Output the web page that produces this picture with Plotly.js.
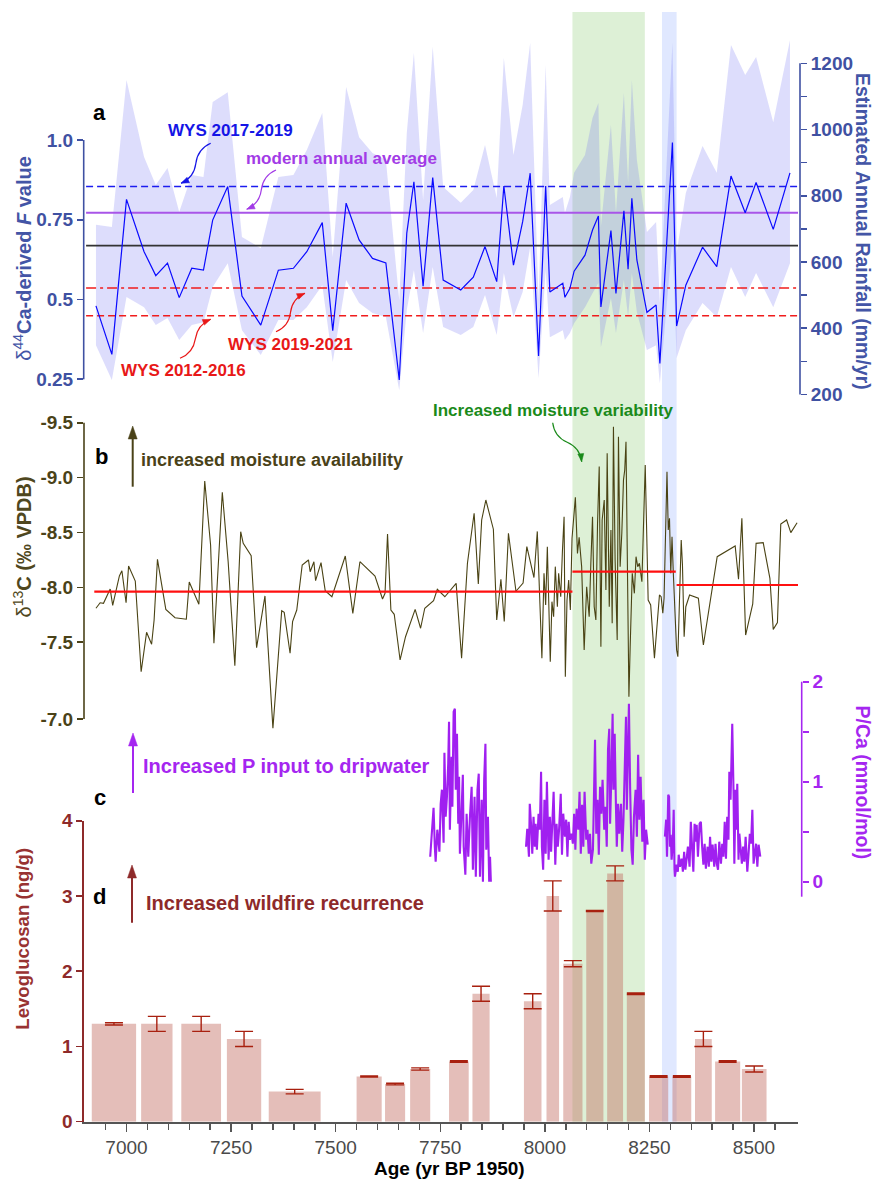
<!DOCTYPE html>
<html><head><meta charset="utf-8">
<script src="https://cdn.plot.ly/plotly-3.0.1.min.js"></script>
<style>html,body{margin:0;padding:0;background:#fff}#chart{width:875px;height:1182px}</style>
</head><body><div id="chart"></div>
<script>
// ---------------- DATA ----------------
// Panel a: d44Ca-derived F value and its uncertainty envelope
const aAge = [6927,6965,7000,7042,7070,7098,7126,7156,7184,7206,7242,7276,7321,7363,7399,7431,7468,7493,7525,7556,7588,7620,7652,7670,7687,7709,7732,7757,7799,7829,7857,7885,7902,7925,7947,7965,7985,8002,8012,8043,8048,8060,8070,8096,8114,8128,8134,8158,8170,8189,8199,8208,8220,8244,8266,8275,8305,8315,8337,8377,8411,8445,8479,8505,8546,8586];
const aF = [0.480,0.328,0.814,0.650,0.575,0.614,0.506,0.598,0.592,0.749,0.854,0.511,0.420,0.592,0.598,0.650,0.741,0.402,0.802,0.687,0.629,0.615,0.248,0.708,0.869,0.542,0.882,0.561,0.530,0.570,0.666,0.556,0.856,0.608,0.744,0.896,0.323,0.856,0.524,0.551,0.507,0.535,0.589,0.639,0.718,0.762,0.477,0.716,0.519,0.778,0.595,0.817,0.624,0.460,0.483,0.300,0.992,0.417,0.545,0.664,0.603,0.887,0.772,0.867,0.720,0.897];
const aUp = [0.734,0.727,1.188,0.947,0.859,0.912,0.774,0.890,0.884,1.119,1.150,0.696,0.661,0.884,0.890,0.969,1.085,0.633,1.166,1.009,0.959,0.937,0.498,1.022,1.273,0.812,1.292,0.853,0.803,0.843,0.984,0.818,1.257,0.953,1.110,1.304,0.500,1.235,0.796,0.821,0.771,0.821,0.897,0.953,1.069,1.116,0.727,1.047,0.771,1.147,0.865,1.188,0.937,0.712,0.743,0.489,1.304,0.646,0.834,0.981,0.897,1.298,1.204,1.260,1.056,1.313];
const aLo = [0.357,0.248,0.508,0.476,0.420,0.442,0.373,0.420,0.429,0.539,0.614,0.404,0.326,0.436,0.436,0.476,0.545,0.304,0.561,0.489,0.458,0.445,0.216,0.467,0.592,0.395,0.602,0.414,0.389,0.414,0.514,0.389,0.583,0.445,0.524,0.665,0.254,0.592,0.382,0.404,0.373,0.395,0.426,0.476,0.520,0.552,0.351,0.505,0.395,0.561,0.445,0.583,0.461,0.342,0.357,0.238,0.687,0.317,0.404,0.489,0.445,0.602,0.508,0.583,0.476,0.614];
// reference F levels
const refNames = ['WYS 2017-2019','modern annual average','mean','WYS 2019-2021','WYS 2012-2016'];
const refF = [0.854, 0.772, 0.669, 0.536, 0.449];
const fTicks = [0.25, 0.5, 0.75, 1.0];
const fTickText = ['0.25','0.5','0.75','1.0'];
const rainTicks = [200,400,600,800,1000,1200];

// Panel b: d13C
const bAge = [6927,6937,6945,6961,6967,6983,6989,6999,7005,7021,7035,7048,7060,7066,7074,7084,7094,7116,7143,7150,7173,7187,7201,7209,7229,7243,7259,7273,7279,7298,7311,7331,7350,7371,7377,7391,7397,7407,7420,7435,7439,7448,7452,7465,7475,7491,7523,7541,7558,7594,7612,7618,7624,7632,7640,7654,7667,7690,7703,7713,7734,7743,7761,7788,7801,7815,7831,7841,7849,7859,7877,7885,7895,7903,7913,7931,7948,7957,7974,7982,7993,7998,8002,8006,8013,8017,8021,8025,8030,8033,8038,8042,8046,8049,8053,8057,8061,8065,8073,8078,8082,8088,8094,8100,8106,8110,8114,8118,8122,8126,8130,8134,8137,8142,8146,8149,8154,8158,8161,8164,8168,8173,8176,8180,8184,8188,8191,8194,8198,8201,8204,8209,8214,8218,8222,8226,8232,8240,8247,8253,8262,8274,8278,8282,8285,8288,8292,8295,8298,8301,8304,8307,8315,8318,8322,8326,8329,8333,8337,8346,8367,8379,8412,8455,8463,8471,8480,8497,8505,8522,8538,8546,8556,8564,8578,8588,8603];
const bVal = [-7.81,-7.86,-7.855,-7.985,-7.837,-8.104,-8.152,-7.86,-8.195,-8.058,-7.232,-7.591,-7.482,-7.703,-8.256,-8.037,-7.80,-7.724,-7.71,-8.049,-7.846,-8.969,-8.386,-7.491,-8.866,-8.234,-7.287,-8.507,-8.402,-8.289,-7.451,-7.922,-6.717,-7.788,-7.773,-7.40,-7.688,-7.794,-8.204,-8.25,-8.143,-8.234,-8.061,-8.225,-7.97,-7.915,-8.286,-7.764,-8.234,-8.104,-7.894,-7.946,-8.486,-7.794,-7.755,-7.339,-7.551,-7.80,-7.628,-7.81,-7.879,-7.983,-7.915,-8.037,-7.354,-8.22,-8.675,-8.031,-8.614,-8.796,-8.53,-7.703,-8.074,-7.69,-8.493,-7.965,-8.04,-8.371,-8.09,-8.51,-7.354,-8.128,-7.84,-8.371,-7.323,-7.87,-7.733,-8.189,-7.824,-8.128,-7.915,-8.325,-8.644,-7.187,-7.885,-8.067,-7.794,-8.447,-8.82,-8.31,-8.456,-8.189,-7.43,-8.006,-7.733,-8.22,-8.644,-7.824,-7.703,-8.584,-9.1,-7.46,-8.614,-8.796,-7.976,-9.221,-7.824,-8.523,-7.673,-9.464,-8.25,-7.521,-9.373,-8.189,-8.493,-8.978,-9.069,-9.327,-7.794,-7.005,-7.46,-8.128,-7.946,-8.28,-8.189,-8.22,-8.052,-9.115,-7.885,-7.84,-7.354,-7.931,-7.915,-7.764,-7.901,-8.34,-9.054,-8.523,-8.629,-8.128,-8.462,-8.143,-7.43,-7.369,-7.824,-8.432,-8.204,-7.551,-7.824,-7.931,-7.901,-7.475,-8.28,-8.377,-8.074,-8.629,-7.566,-7.849,-8.401,-8.407,-8.083,-7.618,-7.679,-8.577,-8.614,-8.499,-8.589];
const bMeanStart = [6923, 8066, 8315];
const bMeanEnd = [8066, 8313, 8606];
const bMeanVal = [-7.961, -8.143, -8.022];
const bTickText = ['-9.5','-9.0','-8.5','-8.0','-7.5','-7.0'];

// Panel c: P/Ca (three sections)
const pcAge1 = [7726,7730,7734,7737,7739,7743,7748,7751,7754,7758,7760,7763,7766,7769,7771,7773,7777,7779,7782,7785,7787,7790,7793,7795,7797,7801,7804,7806,7810,7813,7817,7821,7825,7828,7832,7835,7839,7842,7845,7849,7852,7855,7858,7860,7864,7867,7869,7871];
const pcVal1 = [0.25,0.49,0.74,0.35,0.20,0.52,0.30,0.78,0.92,0.39,1.29,0.65,0.85,1.18,1.60,0.52,1.25,0.75,1.70,1.73,0.92,1.48,0.58,1.05,0.28,0.72,1.07,0.35,0.07,0.68,0.25,0.65,0.95,0.12,0.85,0.05,0.92,1.08,0.05,0.82,0.00,1.02,1.38,0.32,0.65,0.00,0.25,0.00];
const pcAge2 = [7955,7958,7962,7964,7967,7970,7973,7976,7978,7981,7985,7988,7991,7993,7996,7999,8002,8005,8009,8012,8015,8018,8021,8025,8028,8031,8034,8038,8041,8044,8048,8051,8054,8057,8060,8064,8067,8070,8073,8076,8080,8083,8086,8089,8092,8095,8099,8102,8105,8108,8111,8115,8118,8120,8123,8126,8129,8132,8135,8138,8142,8145,8148,8151,8154,8156,8159,8162,8164,8167,8170,8172,8175,8178,8182,8185,8188,8191,8194,8196,8199,8201,8204,8207,8210,8213,8217,8220,8223,8226,8229,8233,8236,8239,8242,8246];
const pcVal2 = [0.35,0.53,0.25,0.78,0.58,0.28,0.65,0.35,0.58,0.32,0.68,0.52,1.10,0.35,0.12,0.82,0.28,1.00,0.22,0.65,0.30,0.65,0.90,0.17,0.58,0.35,0.52,0.88,0.27,0.68,0.45,0.62,0.25,0.60,0.42,0.48,0.38,0.68,0.32,0.73,0.52,0.90,0.28,0.77,0.35,0.90,0.42,0.52,0.28,0.48,0.18,0.32,0.95,1.42,0.48,0.82,0.27,0.95,0.68,1.02,0.52,0.75,0.35,1.32,1.53,0.58,1.05,1.68,0.92,1.48,0.75,0.35,0.78,0.48,0.78,0.30,0.62,1.03,1.65,0.72,1.58,1.78,0.92,0.32,0.17,0.65,0.92,0.45,1.27,0.62,1.05,0.40,0.82,0.22,0.52,0.37];
const pcAge3 = [8287,8290,8292,8295,8297,8299,8301,8303,8306,8308,8310,8311,8315,8318,8320,8323,8327,8330,8333,8336,8339,8342,8346,8349,8352,8355,8358,8360,8363,8366,8370,8373,8376,8379,8382,8385,8389,8392,8395,8398,8401,8405,8408,8411,8414,8417,8421,8424,8427,8430,8433,8436,8439,8441,8444,8446,8448,8451,8453,8456,8458,8460,8463,8465,8468,8471,8474,8477,8480,8484,8487,8490,8493,8496,8499,8502,8505,8508,8511,8515];
const pcVal3 = [0.45,0.62,0.25,0.87,0.85,0.35,0.47,0.22,0.38,0.72,0.12,0.05,0.17,0.10,0.27,0.15,0.23,0.10,0.30,0.12,0.23,0.35,0.15,0.60,0.35,0.10,0.58,0.40,0.57,0.25,0.58,0.60,0.35,0.17,0.38,0.13,0.35,0.15,0.45,0.20,0.37,0.15,0.38,0.18,0.12,0.40,0.18,0.38,0.25,0.60,0.23,0.65,0.42,1.10,0.82,1.27,1.58,0.92,0.18,0.92,0.52,0.98,0.22,0.48,0.32,0.18,0.35,0.20,0.45,0.10,0.28,0.48,0.38,0.72,0.18,0.28,0.38,0.15,0.37,0.25];

// Panel d: levoglucosan per sample age interval
const levoAgeStart = [6917,7035,7131,7240,7340,7550,7618,7678,7771,7827,7950,8004,8044,8099,8149,8196,8249,8305,8359,8407,8471];
const levoAgeEnd   = [7023,7110,7226,7322,7464,7610,7666,7726,7818,7868,7992,8034,8090,8140,8187,8239,8295,8350,8399,8467,8530];
const levo    = [1.3,1.3,1.3,1.1,0.4,0.6,0.5,0.7,0.8,1.7,1.6,3.0,2.1,2.8,3.3,1.7,0.6,0.6,1.1,0.8,0.7];
const levoErr = [0.015,0.1,0.1,0.1,0.03,0.008,0.01,0.015,0.01,0.1,0.1,0.2,0.04,0.008,0.1,0.01,0.01,0.01,0.1,0.01,0.04];

// highlighted intervals
const bandStart = [8066, 8280];
const bandEnd   = [8239, 8315];

const xTicks = [7000,7250,7500,7750,8000,8250,8500];

// ---------------- LAYOUT HELPERS ----------------
const W = 875, H = 1182;
const X = p => p / W, Y = p => 1 - p / H;
const lin = (v1, p1, v2, p2, p) => v1 + (p - p1) * (v2 - v1) / (p2 - p1);
const FF = 'Liberation Sans, Arial, Helvetica, sans-serif';
const XL = 84, XR = 798;
const xr = [lin(7000,126.5,8500,754,XL), lin(7000,126.5,8500,754,XR)];

const A_COL = '#3f51a2', B_COL = '#4a4218', C_COL = '#a526f0', D_COL = '#8e2a2a';

const fRange = [lin(1,140,0.25,379.3,400), lin(1,140,0.25,379.3,20)];
const rRange = [lin(1200,63.3,200,394.5,400), lin(1200,63.3,200,394.5,20)];
const bRange = [lin(-9.5,422.7,-7.5,642.3,740), lin(-9.5,422.7,-7.5,642.3,400)];
const bM7pos = lin(-9.5,422.7,-7.5,642.3,719);
const bTickVals = [-9.5,-9,-8.5,-8,-7.5,bM7pos];
const cRange = [lin(2,681.7,0,881.7,900), lin(2,681.7,0,881.7,660)];

const minorX = [];
for (let v = 6950; v <= 8550; v += 50) if (v % 250 !== 0) minorX.push(v);

// ---------------- TRACES ----------------
const traces = [];
traces.push({x:aAge, y:aLo, xaxis:'x', yaxis:'y', mode:'lines', line:{width:0,color:'rgba(0,0,0,0)'}, hoverinfo:'skip', showlegend:false});
traces.push({x:aAge, y:aUp, xaxis:'x', yaxis:'y', mode:'lines', fill:'tonexty', fillcolor:'rgba(110,110,240,0.23)', line:{width:0,color:'rgba(0,0,0,0)'}, hoverinfo:'skip', showlegend:false});
const refStyle = [
  {color:'#1c1cf0', width:1.5, dash:'7px,4px'},
  {color:'#a855e8', width:1.8, dash:'solid'},
  {color:'#333333', width:1.6, dash:'solid'},
  {color:'#f01c1c', width:1.5, dash:'10px,4px,3px,4px'},
  {color:'#f01c1c', width:1.5, dash:'7px,4px'}
];
refF.forEach((v,i)=>traces.push({x:[xr[0]+5, xr[1]], y:[v,v], xaxis:'x', yaxis:'y', mode:'lines', line:refStyle[i], name:refNames[i], showlegend:false}));
traces.push({x:aAge, y:aF, xaxis:'x', yaxis:'y', mode:'lines', line:{color:'#0a0aff', width:1.2}, showlegend:false});

traces.push({x:bAge, y:bVal, xaxis:'x', yaxis:'y3', mode:'lines', line:{color:'#4a4314', width:1.1}, showlegend:false});
const mx = [], my = [];
bMeanVal.forEach((v,i)=>{ mx.push(bMeanStart[i], bMeanEnd[i], null); my.push(v, v, null); });
traces.push({x:mx, y:my, xaxis:'x', yaxis:'y3', mode:'lines', line:{color:'#ff1010', width:2.2}, showlegend:false});

[[pcAge1,pcVal1],[pcAge2,pcVal2],[pcAge3,pcVal3]].forEach(s=>traces.push({x:s[0], y:s[1], xaxis:'x', yaxis:'y4', mode:'lines', line:{color:'#a020f0', width:2.1}, showlegend:false}));

traces.push({type:'bar', x:levoAgeStart.map((s,i)=>(s+levoAgeEnd[i])/2), width:levoAgeStart.map((s,i)=>levoAgeEnd[i]-s), y:levo, xaxis:'x', yaxis:'y5',
  marker:{color:'rgba(195,110,100,0.45)', line:{width:0}},
  error_y:{type:'data', array:levoErr, visible:true, color:'#a8200f', thickness:1.4, width:9}, showlegend:false});

// ---------------- SHAPES ----------------
const shapes = [];
const bandCol = ['#ddf0d6', '#e0e8ff'];
bandStart.forEach((s,i)=>shapes.push({type:'rect', xref:'x', yref:'paper', x0:s, x1:bandEnd[i], y0:Y(1121.7), y1:Y(12), fillcolor:bandCol[i], line:{width:0}, layer:'below'}));
// axis lines
shapes.push({type:'line', xref:'paper', yref:'y', x0:X(83.7), x1:X(83.7), y0:0.25, y1:1.0, line:{color:A_COL, width:1.6}});
shapes.push({type:'line', xref:'paper', yref:'y2', x0:X(800), x1:X(800), y0:200, y1:1200, line:{color:A_COL, width:1.6}});
shapes.push({type:'line', xref:'paper', yref:'y3', x0:X(84), x1:X(84), y0:-9.5, y1:bM7pos, line:{color:B_COL, width:1.6}});
shapes.push({type:'line', xref:'paper', yref:'y4', x0:X(801.7), x1:X(801.7), y0:2, y1:lin(2,681.7,0,881.7,896.7), line:{color:C_COL, width:1.6}});

function head(tx,ty,fx,fy,len,wid,color){
  const dx=tx-fx, dy=ty-fy, L=Math.hypot(dx,dy), ux=dx/L, uy=dy/L;
  const bx=tx-ux*len, by=ty-uy*len, nx=-uy, ny=ux;
  return {type:'path', xref:'paper', yref:'paper',
    path:`M ${X(tx)},${Y(ty)} L ${X(bx+nx*wid/2)},${Y(by+ny*wid/2)} L ${X(bx-nx*wid/2)},${Y(by-ny*wid/2)} Z`,
    fillcolor:color, line:{color:color, width:0.5}};
}
function squig(sx,sy,tx,ty,amp,color){
  const dx=tx-sx, dy=ty-sy, L=Math.hypot(dx,dy), nx=-dy/L*amp, ny=dx/L*amp;
  const mxp=sx+dx*0.5, myp=sy+dy*0.5;
  const c1=[sx+dx*0.25+nx, sy+dy*0.25+ny], c2=[sx+dx*0.75-nx, sy+dy*0.75-ny];
  shapes.push({type:'path', xref:'paper', yref:'paper',
    path:`M ${X(sx)},${Y(sy)} Q ${X(c1[0])},${Y(c1[1])} ${X(mxp)},${Y(myp)} Q ${X(c2[0])},${Y(c2[1])} ${X(tx)},${Y(ty)}`,
    line:{color:color, width:1.2}});
  shapes.push(head(tx,ty,c2[0],c2[1],8,6,color));
}
squig(210.7,143.3,181,183.3,7,'#1515e6');
squig(276,170,246.7,209.3,7,'#a23be6');
squig(276,331.7,305,293.3,7,'#e81818');
squig(180,358.3,210.7,319.3,7,'#e81818');
squig(552.7,422.7,581.7,461.7,7,'#1a8a1a');

function upArrow(x,y0,y1,color){
  shapes.push({type:'line', xref:'paper', yref:'paper', x0:X(x), x1:X(x), y0:Y(y0), y1:Y(y1+10), line:{color:color, width:2}});
  shapes.push(head(x,y1,x,y0,13,9,color));
}
upArrow(132.7,486.7,426,B_COL);
upArrow(133,793,733,C_COL);
upArrow(132,922.7,865,D_COL);

// ---------------- ANNOTATIONS ----------------
const ann = [];
function T(text,x,y,size,color,angle){
  ann.push({text:text, xref:'paper', yref:'paper', x:X(x), y:Y(y), xanchor:'center', yanchor:'middle', showarrow:false,
    textangle:angle||0, font:{family:FF, size:size, color:color}});
}
T('<b>a</b>',99.3,112.7,22,'#000');
T('<b>b</b>',101.7,456,22,'#000');
T('<b>c</b>',100,797,22,'#000');
T('<b>d</b>',99,896.7,22,'#000');
T('<b>WYS 2017-2019</b>',230,130.7,17,'#1515e6');
T('<b>modern annual average</b>',341,158.3,17,'#a23be6');
T('<b>WYS 2019-2021</b>',290.5,344.3,17,'#e81818');
T('<b>WYS 2012-2016</b>',183.8,370,17,'#e81818');
T('<b>increased moisture availability</b>',272,460,18,B_COL);
T('<b>Increased moisture variability</b>',553.3,410,17,'#1a8a1a');
T('<b>Increased P input to dripwater</b>',286.5,766,20,C_COL);
T('<b>Increased wildfire recurrence</b>',284.7,903.3,20,D_COL);
T('δ<sup>44</sup><b>Ca-derived <i>F</i> value</b>',21.7,258,20,'#4355a6',-90);
T('<b>Estimated Annual Rainfall (mm/yr)</b>',863,231,19.5,'#4355a6',90);
T('δ<sup>13</sup><b>C (‰ VPDB)</b>',22,547.5,20,'#4f4720',-90);
T('<b>P/Ca (mmol/mol)</b>',863,782.5,19.5,C_COL,90);
T('<b>Levoglucosan (ng/g)</b>',21.7,939,18.6,'#983232',-90);
T('<b>Age (yr BP 1950)</b>',449,1168,19,'#000');

// ---------------- AXES ----------------
const tf = (c,b) => ({family:FF, size:19, color:c, weight: b ? 'bold' : 'normal'});
const common = {showgrid:false, zeroline:false, fixedrange:true};
const layout = {
  width:W, height:H, margin:{l:0,r:0,t:0,b:0}, paper_bgcolor:'#ffffff', plot_bgcolor:'rgba(0,0,0,0)',
  showlegend:false, barmode:'overlay', font:{family:FF},
  xaxis:Object.assign({domain:[X(XL),X(XR)], range:xr, anchor:'y5', showline:true, linecolor:'#555', linewidth:1.8,
    ticks:'outside', ticklen:8, tickwidth:1.5, tickcolor:'#555', tickmode:'array', tickvals:xTicks, ticktext:xTicks.map(String),
    tickfont:tf('#4a4a4a',false), minor:{tickmode:'array', tickvals:minorX, ticks:'outside', ticklen:6, tickwidth:1.5, tickcolor:'#555'}}, common),
  yaxis:Object.assign({domain:[Y(400),Y(20)], range:fRange, anchor:'x', side:'left', showline:false, ticks:'outside', ticklen:6, tickwidth:1.6,
    tickcolor:A_COL, tickmode:'array', tickvals:fTicks, ticktext:fTickText, tickfont:tf(A_COL,true)}, common),
  yaxis2:Object.assign({overlaying:'y', side:'right', anchor:'free', position:X(800), range:rRange, showline:false, ticks:'outside', ticklen:6, tickwidth:1.6,
    tickcolor:A_COL, tickmode:'array', tickvals:rainTicks, ticktext:rainTicks.map(String), tickfont:tf(A_COL,true),
    minor:{tickmode:'array', tickvals:[300,500,700,900,1100], ticks:'outside', ticklen:6, tickwidth:1.6, tickcolor:A_COL}}, common),
  yaxis3:Object.assign({domain:[Y(740),Y(400)], range:bRange, anchor:'x', side:'left', showline:false, ticks:'outside', ticklen:6, tickwidth:1.6,
    tickcolor:B_COL, tickmode:'array', tickvals:bTickVals, ticktext:bTickText, tickfont:tf(B_COL,true)}, common),
  yaxis4:Object.assign({domain:[Y(900),Y(660)], range:cRange, anchor:'free', position:X(801.7), side:'right', showline:false, ticks:'outside', ticklen:6, tickwidth:1.6,
    tickcolor:C_COL, tickmode:'array', tickvals:[0,1,2], ticktext:['0','1','2'], tickfont:tf(C_COL,true),
    minor:{tickmode:'array', tickvals:[0.5,1.5], ticks:'outside', ticklen:6, tickwidth:1.6, tickcolor:C_COL}}, common),
  yaxis5:Object.assign({domain:[Y(1121.7),Y(820.7)], range:[0,4], anchor:'x', side:'left', showline:true, linecolor:D_COL, linewidth:1.6,
    ticks:'outside', ticklen:6, tickwidth:1.6, tickcolor:D_COL, tickmode:'array', tickvals:[0,1,2,3,4], ticktext:['0','1','2','3','4'], tickfont:tf(D_COL,true)}, common),
  shapes:shapes, annotations:ann
};
Plotly.newPlot('chart', traces, layout, {displayModeBar:false, staticPlot:true});
</script>
</body></html>
